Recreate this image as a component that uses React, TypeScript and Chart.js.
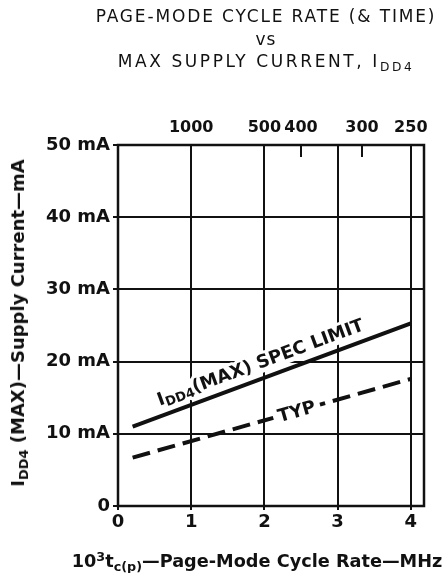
import React, { useEffect, useRef } from 'react';
import { Chart, registerables } from 'chart.js';

Chart.register(...registerables);

// ---- data ----
const xTickValues = [0, 1, 2, 3, 4]; // page-mode cycle rate, MHz
const yTickValues = [0, 10, 20, 30, 40, 50]; // mA
const topTickNs = [1000, 500, 400, 300, 250]; // cycle time, ns
const specLimitX = [0.2, 4.0];
const specLimitY = [11.0, 25.3];
const typX = [0.2, 4.0];
const typY = [6.7, 17.6];

const X_MAX = 4.18;
const Y_MAX = 50;
const FONT = '"DejaVu Sans", "Liberation Sans", sans-serif';
const INK = '#111';

function pts(xs: number[], ys: number[]) {
  return xs.map((x, i) => ({ x, y: ys[i] }));
}

type Seg = { t: string; size: number; dy: number };

function drawSegs(ctx: CanvasRenderingContext2D, segs: Seg[], baseY: number, halo: boolean) {
  let total = 0;
  const widths = segs.map((s) => {
    ctx.font = `bold ${s.size}px ${FONT}`;
    const w = ctx.measureText(s.t).width;
    total += w;
    return w;
  });
  ctx.textAlign = 'left';
  ctx.textBaseline = 'alphabetic';
  if (halo) {
    ctx.fillStyle = '#fff';
    ctx.fillRect(-total / 2 - 3, baseY - 15, total + 6, 20);
    let x = -total / 2;
    ctx.strokeStyle = '#fff';
    ctx.lineWidth = 6;
    ctx.lineJoin = 'round';
    segs.forEach((s, i) => {
      ctx.font = `bold ${s.size}px ${FONT}`;
      ctx.strokeText(s.t, x, baseY + s.dy);
      x += widths[i];
    });
  }
  let x = -total / 2;
  ctx.fillStyle = INK;
  segs.forEach((s, i) => {
    ctx.font = `bold ${s.size}px ${FONT}`;
    ctx.fillText(s.t, x, baseY + s.dy);
    x += widths[i];
  });
  return total;
}

const decorPlugin = {
  id: 'decor',
  beforeDatasetsDraw(chart: any) {
    const { ctx, chartArea, scales } = chart;
    const { left, right, top, bottom } = chartArea;
    ctx.save();
    // frame
    ctx.strokeStyle = INK;
    ctx.lineWidth = 2.5;
    ctx.strokeRect(left, top, right - left, bottom - top);
    // short inner ticks on the top (ns) axis
    const x2 = scales.x2;
    ctx.lineWidth = 2;
    topTickNs.forEach((ns) => {
      const v = 1000 / ns;
      if (Math.abs(v - Math.round(v)) > 1e-6) {
        const px = x2.getPixelForValue(v);
        ctx.beginPath();
        ctx.moveTo(px, top);
        ctx.lineTo(px, top + 12);
        ctx.stroke();
      }
    });
    // spec-limit label along the solid line
    const xs = scales.x;
    const ys = scales.y;
    const p1 = { x: xs.getPixelForValue(specLimitX[0]), y: ys.getPixelForValue(specLimitY[0]) };
    const p2 = { x: xs.getPixelForValue(specLimitX[1]), y: ys.getPixelForValue(specLimitY[1]) };
    const ang = Math.atan2(p2.y - p1.y, p2.x - p1.x);
    const t = (2.02 - specLimitX[0]) / (specLimitX[1] - specLimitX[0]);
    const cx = p1.x + (p2.x - p1.x) * t;
    const cy = p1.y + (p2.y - p1.y) * t;
    ctx.translate(cx, cy);
    ctx.rotate(ang);
    drawSegs(
      ctx,
      [
        { t: 'I', size: 18, dy: 0 },
        { t: 'DD4', size: 13, dy: 3 },
        { t: '(MAX) SPEC LIMIT', size: 18, dy: 0 },
      ],
      -10,
      true
    );
    ctx.restore();
  },
  afterDatasetsDraw(chart: any) {
    const { ctx, scales } = chart;
    const xs = scales.x;
    const ys = scales.y;
    const p1 = { x: xs.getPixelForValue(typX[0]), y: ys.getPixelForValue(typY[0]) };
    const p2 = { x: xs.getPixelForValue(typX[1]), y: ys.getPixelForValue(typY[1]) };
    const ang = Math.atan2(p2.y - p1.y, p2.x - p1.x);
    const t = (2.44 - typX[0]) / (typX[1] - typX[0]);
    const cx = p1.x + (p2.x - p1.x) * t;
    const cy = p1.y + (p2.y - p1.y) * t;
    ctx.save();
    ctx.translate(cx, cy);
    ctx.rotate(ang);
    ctx.font = `bold 18px ${FONT}`;
    const w = ctx.measureText('TYP').width;
    ctx.fillStyle = '#fff';
    ctx.fillRect(-w / 2 - 5, -9, w + 10, 18);
    ctx.fillStyle = INK;
    ctx.textAlign = 'center';
    ctx.textBaseline = 'alphabetic';
    ctx.fillText('TYP', 0, 6);
    ctx.restore();
  },
};

export default function App() {
  const ref = useRef<HTMLCanvasElement | null>(null);

  useEffect(() => {
    if (!ref.current) return;
    const chart = new Chart(ref.current, {
      type: 'line',
      data: {
        datasets: [
          {
            label: 'IDD4(MAX) SPEC LIMIT',
            data: pts(specLimitX, specLimitY),
            borderColor: INK,
            borderWidth: 4,
            pointRadius: 0,
            fill: false,
            tension: 0,
          },
          {
            label: 'TYP',
            data: pts(typX, typY),
            borderColor: INK,
            borderWidth: 4,
            borderDash: [18, 8],
            pointRadius: 0,
            fill: false,
            tension: 0,
          },
        ],
      },
      options: {
        responsive: false,
        animation: false,
        devicePixelRatio: 1,
        layout: { padding: { left: 0, right: 24, top: 0, bottom: 0 } },
        plugins: { legend: { display: false }, tooltip: { enabled: false }, title: { display: false } },
        scales: {
          x: {
            type: 'linear',
            position: 'bottom',
            min: 0,
            max: X_MAX,
            afterBuildTicks: (s: any) => {
              s.ticks = xTickValues.map((v) => ({ value: v }));
            },
            afterFit: (s: any) => {
              s.height = 573 - 506;
            },
            ticks: {
              autoSkip: false,
              maxRotation: 0,
              padding: 2,
              color: INK,
              font: { family: FONT, size: 18, weight: 'bold' },
              callback: (v: any) => String(v),
            },
            grid: { color: INK, lineWidth: 2, tickLength: 4, tickColor: INK },
            border: { display: false },
          },
          x2: {
            type: 'linear',
            position: 'top',
            min: 0,
            max: X_MAX,
            afterBuildTicks: (s: any) => {
              s.ticks = topTickNs.map((ns) => ({ value: 1000 / ns }));
            },
            afterFit: (s: any) => {
              s.height = 145;
            },
            ticks: {
              autoSkip: false,
              maxRotation: 0,
              padding: 8,
              color: INK,
              font: { family: FONT, size: 16, weight: 'bold' },
              callback: (_v: any, i: number) => String(topTickNs[i]),
            },
            grid: { display: false, drawTicks: false },
            border: { display: false },
          },
          y: {
            type: 'linear',
            position: 'left',
            min: 0,
            max: Y_MAX,
            afterBuildTicks: (s: any) => {
              s.ticks = yTickValues.map((v) => ({ value: v }));
            },
            afterFit: (s: any) => {
              s.width = 118;
            },
            ticks: {
              padding: 3,
              color: INK,
              font: { family: FONT, size: 18, weight: 'bold' },
              callback: (v: any) => (v === 0 ? '0' : `${v} mA`),
            },
            grid: { color: INK, lineWidth: 2, tickLength: 5, tickColor: INK },
            border: { display: false },
          },
        },
      },
      plugins: [decorPlugin],
    } as any);
    return () => chart.destroy();
  }, []);

  const sub = { fontSize: '0.72em', verticalAlign: '-0.3em', lineHeight: 0 } as React.CSSProperties;
  const titleLine = (top: number, size: number, ls: number): React.CSSProperties => ({
    position: 'absolute',
    left: 266,
    top,
    transform: 'translateX(-50%)',
    whiteSpace: 'nowrap',
    fontFamily: FONT,
    fontSize: size,
    lineHeight: '21px',
    letterSpacing: ls,
    color: INK,
  });

  return (
    <div style={{ position: 'absolute', left: 0, top: 0, width: 448, height: 573, background: '#fff', overflow: 'hidden' }}>
      <canvas ref={ref} width={448} height={573} style={{ position: 'absolute', left: 0, top: 0 }} />
      <div style={titleLine(6, 17, 1.85)}>PAGE-MODE CYCLE RATE (&amp; TIME)</div>
      <div style={titleLine(29, 17, 1)}>vs</div>
      <div style={titleLine(51, 17, 2.6)}>
        MAX SUPPLY CURRENT, I<span style={sub}>DD4</span>
      </div>
      <div
        style={{
          position: 'absolute',
          left: 18,
          top: 323,
          transform: 'translate(-50%, -50%) rotate(-90deg)',
          whiteSpace: 'nowrap',
          fontFamily: FONT,
          fontWeight: 'bold',
          fontSize: 18,
          lineHeight: '20px',
          color: INK,
        }}
      >
        I<span style={sub}>DD4</span> (MAX)—Supply Current—mA
      </div>
      <div
        style={{
          position: 'absolute',
          left: 257,
          top: 561,
          transform: 'translate(-50%, -50%)',
          whiteSpace: 'nowrap',
          fontFamily: FONT,
          fontWeight: 'bold',
          fontSize: 17.7,
          lineHeight: '20px',
          color: INK,
        }}
      >
        10<span style={{ fontSize: '0.72em', verticalAlign: '0.45em', lineHeight: 0 }}>3</span>t
        <span style={sub}>c(p)</span>—Page-Mode Cycle Rate—MHz
      </div>
    </div>
  );
}
